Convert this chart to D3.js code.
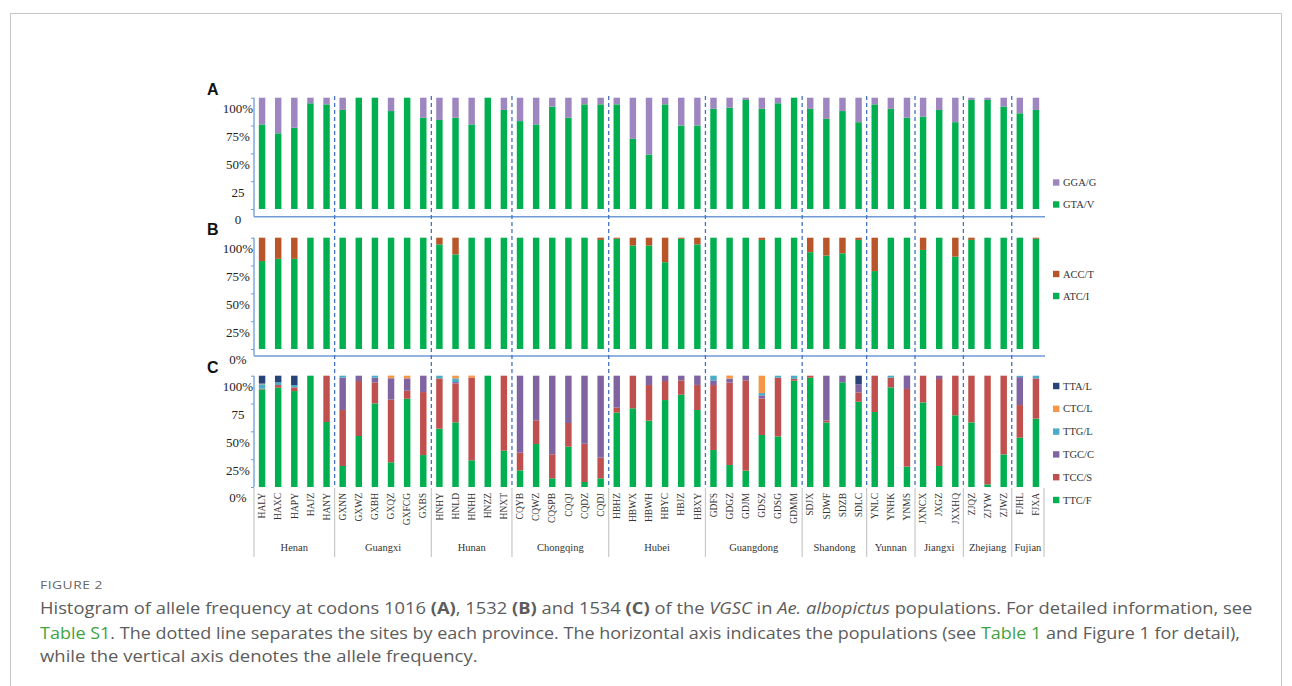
<!DOCTYPE html>
<html>
<head>
<meta charset="utf-8">
<script src="https://cdn.jsdelivr.net/npm/d3@7"></script>
<style>
  body { margin: 0; background: #fff; }
  svg { display: block; }
</style>
</head>
<body>
<div id="chart"></div>
<script>
// populations (x categories) and their provinces
const populations = [
  'HALY','HAXC','HAPY','HAJZ','HANY',
  'GXNN','GXWZ','GXBH','GXQZ','GXFCG','GXBS',
  'HNHY','HNLD','HNHH','HNZZ','HNXT',
  'CQYB','CQWZ','CQSPB','CQQJ','CQDZ','CQDJ',
  'HBHZ','HBWX','HBWH','HBYC','HBJZ','HBXY',
  'GDFS','GDGZ','GDJM','GDSZ','GDSG','GDMM',
  'SDJX','SDWF','SDZB','SDLC',
  'YNLC','YNHK','YNMS',
  'JXNCX','JXGZ','JXXHQ',
  'ZJQZ','ZJYW','ZJWZ',
  'FJHL','FJXA'
];
const provinces = ['Henan','Guangxi','Hunan','Chongqing','Hubei','Guangdong','Shandong','Yunnan','Jiangxi','Zhejiang','Fujian'];
const provinceSizes = [5, 6, 5, 6, 6, 6, 4, 3, 3, 3, 2];

// A: codon 1016
const gtaV = [0.76,0.68,0.73,0.95,0.94, 0.89,1,1,0.88,1,0.82, 0.80,0.82,0.76,1,0.89,
  0.79,0.76,0.92,0.82,0.94,0.94, 0.94,0.63,0.49,0.94,0.75,0.75, 0.90,0.91,0.98,0.90,0.95,1,
  0.90,0.81,0.88,0.78, 0.94,0.90,0.82, 0.83,0.89,0.78, 0.98,0.98,0.92, 0.86,0.89];
const ggaG = [0.24,0.32,0.27,0.05,0.06, 0.11,0,0,0.12,0,0.18, 0.20,0.18,0.24,0,0.11,
  0.21,0.24,0.08,0.18,0.06,0.06, 0.06,0.37,0.51,0.06,0.25,0.25, 0.10,0.09,0.02,0.10,0.05,0,
  0.10,0.19,0.12,0.22, 0.06,0.10,0.18, 0.17,0.11,0.22, 0.02,0.02,0.08, 0.14,0.11];

// B: codon 1532
const atcI = [0.79,0.81,0.81,1,1, 1,1,1,1,1,1, 0.94,0.85,1,1,1,
  1,1,1,1,1,0.98, 0.99,0.93,0.93,0.78,0.99,0.94, 1,1,1,0.98,1,1,
  0.87,0.84,0.86,0.98, 0.70,1,1, 0.89,1,0.83, 0.98,1,1, 1,0.99];
const accT = [0.21,0.19,0.19,0,0, 0,0,0,0,0,0, 0.06,0.15,0,0,0,
  0,0,0,0,0,0.02, 0.01,0.07,0.07,0.22,0.01,0.06, 0,0,0,0.02,0,0,
  0.13,0.16,0.14,0.02, 0.30,0,0, 0.11,0,0.17, 0.02,0,0, 0,0.01];

// C: codon 1534
const ttcF = [0.877,0.892,0.862,1,0.584, 0.189,0.458,0.751,0.222,0.793,0.287,
  0.524,0.581,0.24,1,0.326, 0.15,0.386,0.078,0.362,0.045,0.078,
  0.668,0.707,0.596,0.781,0.829,0.692, 0.332,0.198,0.147,0.467,0.455,0.955,
  0.982,0.581,0.94,0.766, 0.674,0.895,0.183, 0.76,0.189,0.644, 0.581,0.024,0.293, 0.443,0.614];
const tccS = [0.006,0.024,0.033,0,0.416, 0.503,0.494,0.189,0.563,0.072,0.566,
  0.452,0.35,0.743,0,0.674, 0.159,0.213,0.216,0.213,0.344,0.186,
  0.045,0.293,0.32,0.171,0.129,0.225, 0.584,0.74,0.811,0.329,0.527,0.018,
  0.018,0.018,0,0.084, 0.326,0.087,0.698, 0.24,0.781,0.356, 0.419,0.976,0.707, 0.293,0.362];
const tgcC = [0,0,0,0,0, 0.29,0.048,0.042,0.192,0.111,0.147,
  0,0.012,0,0,0, 0.691,0.401,0.706,0.425,0.611,0.736,
  0.287,0,0.084,0.048,0.042,0.084, 0.042,0.036,0.042,0.027,0,0,
  0,0.401,0.06,0.072, 0,0,0.12, 0,0.03,0, 0,0,0, 0.251,0];
const ttgL = [0.04,0.024,0.021,0,0, 0.018,0,0.018,0,0,0,
  0.024,0.033,0,0,0, 0,0,0,0,0,0,
  0,0,0,0,0,0, 0.042,0,0,0.021,0.018,0.027,
  0,0,0,0, 0,0.018,0, 0,0,0, 0,0,0, 0.012,0.024];
const ctcL = [0.006,0,0,0,0, 0,0,0,0.024,0.024,0,
  0,0.024,0.018,0,0, 0,0,0,0,0,0,
  0,0,0,0,0,0, 0,0.027,0,0.156,0,0,
  0,0,0,0, 0,0,0, 0,0,0, 0,0,0, 0,0];
const ttaL = [0.071,0.06,0.084,0,0, 0,0,0,0,0,0,
  0,0,0,0,0, 0,0,0,0,0,0,
  0,0,0,0,0,0, 0,0,0,0,0,0,
  0,0,0,0.078, 0,0,0, 0,0,0, 0,0,0, 0,0];

const tickValues = [0, 0.25, 0.5, 0.75, 1];
const tickLabelsA = ['0', '25', '50%', '75%', '100%'];
const tickLabelsB = ['0%', '25%', '50%', '75%', '100%'];
const tickLabelsC = ['0%', '25%', '50%', '75', '100%'];

const GREEN = '#00b050';
const SERIF = "'Times New Roman', 'Liberation Serif', serif";

const panels = [
  { letter: 'A', top: 97.7, bottom: 209, base: 216.7, ticks: tickLabelsA,
    series: [
      { key: 'GTA/V', values: gtaV, color: GREEN },
      { key: 'GGA/G', values: ggaG, color: '#9e87c0' }
    ], legendY: 182.5 },
  { letter: 'B', top: 237.7, bottom: 349, base: 355.7, ticks: tickLabelsB,
    series: [
      { key: 'ATC/I', values: atcI, color: GREEN },
      { key: 'ACC/T', values: accT, color: '#b8562a' }
    ], legendY: 274 },
  { letter: 'C', top: 375.7, bottom: 487, base: 487, ticks: tickLabelsC,
    series: [
      { key: 'TTC/F', values: ttcF, color: GREEN },
      { key: 'TCC/S', values: tccS, color: '#c0504d' },
      { key: 'TGC/C', values: tgcC, color: '#8064a2' },
      { key: 'TTG/L', values: ttgL, color: '#4bacc6' },
      { key: 'CTC/L', values: ctcL, color: '#f79646' },
      { key: 'TTA/L', values: ttaL, color: '#264478' }
    ], legendY: 386 }
];

const W = 1292, H = 686;
const svg = d3.select('#chart').append('svg').attr('width', W).attr('height', H);

// figure frame
svg.append('rect')
  .attr('x', 10.5).attr('y', 13.5).attr('width', 1271).attr('height', 720)
  .attr('fill', 'none').attr('stroke', '#c8c8c8').attr('stroke-width', 1);

const x = d3.scaleBand()
  .domain(populations)
  .range([254, 1044])
  .paddingInner(0.6)
  .paddingOuter(0.3);

const AXIS_BLUE = '#6f9bd6';

panels.forEach(p => {
  const y = d3.scaleLinear().domain([0, 1]).range([p.bottom, p.top]);
  const g = svg.append('g').attr('class', `panel panel-${p.letter}`);

  // stacked bars
  const rows = populations.map((pop, i) => {
    const r = { pop };
    p.series.forEach(s => { r[s.key] = s.values[i]; });
    return r;
  });
  const stack = d3.stack().keys(p.series.map(s => s.key));
  const layers = stack(rows);

  g.selectAll('g.layer')
    .data(layers)
    .join('g')
    .attr('class', 'layer')
    .attr('fill', (d, i) => p.series[i].color)
    .selectAll('rect')
    .data(d => d)
    .join('rect')
    .attr('x', d => x(d.data.pop))
    .attr('width', x.bandwidth())
    .attr('y', d => y(d[1]))
    .attr('height', d => Math.max(0, y(d[0]) - y(d[1])));

  // y axis
  const axis = d3.axisLeft(y)
    .tickValues(tickValues)
    .tickSize(3)
    .tickSizeOuter(0)
    .tickFormat((d, i) => p.ticks[i]);
  const ax = g.append('g')
    .attr('transform', 'translate(254,0)')
    .call(axis);
  ax.select('.domain').remove();
  ax.selectAll('.tick line').attr('stroke', AXIS_BLUE);
  ax.selectAll('.tick text')
    .attr('x', -16)
    .attr('dy', '1.15em')
    .attr('text-anchor', 'middle')
    .attr('fill', '#222')
    .style('font-family', SERIF)
    .style('font-size', '13px');

  g.append('line')
    .attr('x1', 254).attr('x2', 254)
    .attr('y1', p.top).attr('y2', p.base)
    .attr('stroke', AXIS_BLUE).attr('stroke-width', 1.3);

  // panel letter
  g.append('text')
    .attr('x', 207).attr('y', p.top - 2.5)
    .attr('font-family', 'Arial, Liberation Sans, sans-serif')
    .attr('font-weight', 'bold')
    .attr('font-size', 16)
    .attr('fill', '#111')
    .text(p.letter);

  // legend (top series first)
  const legend = g.append('g').attr('class', 'legend')
    .attr('transform', `translate(1053, ${p.legendY})`);
  p.series.slice().reverse().forEach((s, i) => {
    const step = p.series.length > 2 ? 22.8 : 22;
    const item = legend.append('g').attr('transform', `translate(0, ${i * step})`);
    item.append('rect')
      .attr('x', 0).attr('y', -3.2)
      .attr('width', 6.4).attr('height', 6.4)
      .attr('fill', s.color);
    item.append('text')
      .attr('x', 10).attr('y', 3.6)
      .attr('font-family', SERIF)
      .attr('font-size', 10.5)
      .attr('fill', '#333')
      .text(s.key);
  });
});

// horizontal panel separators
[216.7, 356].forEach(yy => {
  svg.append('line')
    .attr('x1', 254).attr('x2', 1045)
    .attr('y1', yy).attr('y2', yy)
    .attr('stroke', AXIS_BLUE).attr('stroke-width', 1.6);
});

// province boundaries
let start = 0;
const groups = provinces.map((name, i) => {
  const first = populations[start];
  const last = populations[start + provinceSizes[i] - 1];
  start += provinceSizes[i];
  const x0 = x(first) - x.step() * x.paddingInner() / 2;
  const x1 = x(last) + x.bandwidth() + x.step() * x.paddingInner() / 2;
  return { name, x0, x1 };
});

groups.slice(1).forEach(gr => {
  svg.append('line')
    .attr('x1', gr.x0).attr('x2', gr.x0)
    .attr('y1', 96).attr('y2', 487)
    .attr('stroke', '#4472c4')
    .attr('stroke-width', 1.3)
    .attr('stroke-dasharray', '4,3');
});

// category table lines under panel C
const tableLines = [254].concat(groups.map(gr => gr.x1));
groups.slice(1).forEach((gr, i) => { tableLines[i + 1] = gr.x0; });
tableLines.forEach(xx => {
  svg.append('line')
    .attr('x1', xx).attr('x2', xx)
    .attr('y1', 488).attr('y2', 557)
    .attr('stroke', '#c8c8c8').attr('stroke-width', 1.2);
});

// population labels
svg.append('g').selectAll('text')
  .data(populations)
  .join('text')
  .attr('transform', d => `translate(${x(d) + x.bandwidth() / 2 + 3.2}, 493) rotate(-90)`)
  .attr('text-anchor', 'end')
  .attr('font-family', SERIF)
  .attr('font-size', 9.5)
  .attr('fill', '#333')
  .text(d => d);

// province labels
svg.append('g').selectAll('text')
  .data(groups)
  .join('text')
  .attr('x', d => (d.x0 + d.x1) / 2)
  .attr('y', 551)
  .attr('text-anchor', 'middle')
  .attr('font-family', SERIF)
  .attr('font-size', 10.5)
  .attr('fill', '#333')
  .text(d => d.name);

// caption
const CAP_FONT = "'Open Sans', 'DejaVu Sans', sans-serif";
const fig = svg.append('text')
  .attr('font-family', CAP_FONT)
  .attr('font-size', 11)
  .attr('letter-spacing', 0.4)
  .attr('fill', '#666')
  .text('FIGURE 2');
fitLine(fig, 40, 589, 63);

const captionLines = [
  [
    { t: 'Histogram of allele frequency at codons 1016 ' },
    { t: '(A)', b: true }, { t: ', 1532 ' }, { t: '(B)', b: true },
    { t: ' and 1534 ' }, { t: '(C)', b: true }, { t: ' of the ' },
    { t: 'VGSC', i: true }, { t: ' in ' }, { t: 'Ae. albopictus', i: true },
    { t: ' populations. For detailed information, see' }
  ],
  [
    { t: 'Table S1', link: true },
    { t: '. The dotted line separates the sites by each province. The horizontal axis indicates the populations (see ' },
    { t: 'Table 1', link: true }, { t: ' and Figure 1 for detail),' }
  ],
  [
    { t: 'while the vertical axis denotes the allele frequency.' }
  ]
];
const captionY = [614, 638.5, 662];
const captionW = [1213, 1201, 438];

captionLines.forEach((parts, li) => {
  const t = svg.append('text')
    .attr('font-family', CAP_FONT)
    .attr('font-size', 15.5)
    .attr('fill', '#5c5c5c');
  parts.forEach(pt => {
    t.append('tspan')
      .attr('font-weight', pt.b ? 'bold' : null)
      .attr('font-style', pt.i ? 'italic' : null)
      .attr('fill', pt.link ? '#3fa33f' : null)
      .text(pt.t);
  });
  fitLine(t, 40, captionY[li], captionW[li]);
});

function fitLine(sel, x0, y0, width) {
  const len = sel.node().getComputedTextLength();
  const k = len > 0 ? width / len : 1;
  sel.attr('transform', `translate(${x0}, ${y0}) scale(${k}, 1)`);
}
</script>
</body>
</html>
